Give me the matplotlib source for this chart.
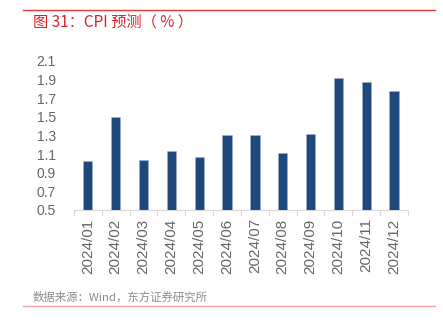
import matplotlib
matplotlib.use("Agg")
import matplotlib.pyplot as plt
import numpy as np
from matplotlib.lines import Line2D

plt.rcParams['font.family'] = ['Liberation Sans', 'Noto Sans CJK SC', 'DejaVu Sans']

months = ["2024/01", "2024/02", "2024/03", "2024/04", "2024/05", "2024/06",
          "2024/07", "2024/08", "2024/09", "2024/10", "2024/11", "2024/12"]
cpi = [1.02, 1.50, 1.04, 1.13, 1.07, 1.30, 1.30, 1.11, 1.32, 1.92, 1.87, 1.78]
yticks = [0.5, 0.7, 0.9, 1.1, 1.3, 1.5, 1.7, 1.9, 2.1]

title = "图 31：CPI 预测（ % ）"
source = "数据来源：Wind，东方证券研究所"

fig = plt.figure(figsize=(4.43, 3.32), dpi=100)
ax = fig.add_axes([0.167, 0.3675, 0.754, 0.4495])

x = np.arange(len(months))
ax.bar(x, cpi, width=0.33, bottom=0, color="#1F497D", edgecolor="#9DB0CC", linewidth=0.4, zorder=3)
ax.set_ylim(0.5, 2.1)
ax.set_xlim(-0.5, len(months) - 0.5)
ax.set_yticks(yticks)
ax.set_yticklabels([f"{v:.1f}" for v in yticks], fontsize=10, color="#666666")
ax.tick_params(axis='y', length=0, pad=13)
ax.set_xticks(x)
ax.set_xticklabels(months, rotation=90, fontsize=11, color="#666666")
ax.set_xticks(np.arange(-0.5, len(months), 1.0), minor=True)
ax.tick_params(axis='x', which='major', length=0, pad=6)
ax.tick_params(axis='x', which='minor', length=4, width=0.8, color="#D9D9D9")
for s in ['left', 'right', 'top']:
    ax.spines[s].set_visible(False)
ax.spines['bottom'].set_color("#D9D9D9")
ax.spines['bottom'].set_linewidth(0.8)

fig.add_artist(Line2D([23/443, 435/443], [1 - 10/332, 1 - 10/332], color="#E8393A", linewidth=1.0))
fig.add_artist(Line2D([23/443, 435/443], [1 - 305.5/332, 1 - 305.5/332], color="#F2A3A3", linewidth=1.0))
fig.text(33/443, 1 - 22/332, title, fontsize=11, color="#E0202A", va='center', ha='left',
         family=['Noto Sans CJK SC', 'DejaVu Sans'])
fig.text(33/443, 1 - 297/332, source, fontsize=8.2, color="#8C8C8C", va='center', ha='left',
         family=['Noto Sans CJK SC', 'DejaVu Sans'])

fig.savefig("out.png", dpi=100)
